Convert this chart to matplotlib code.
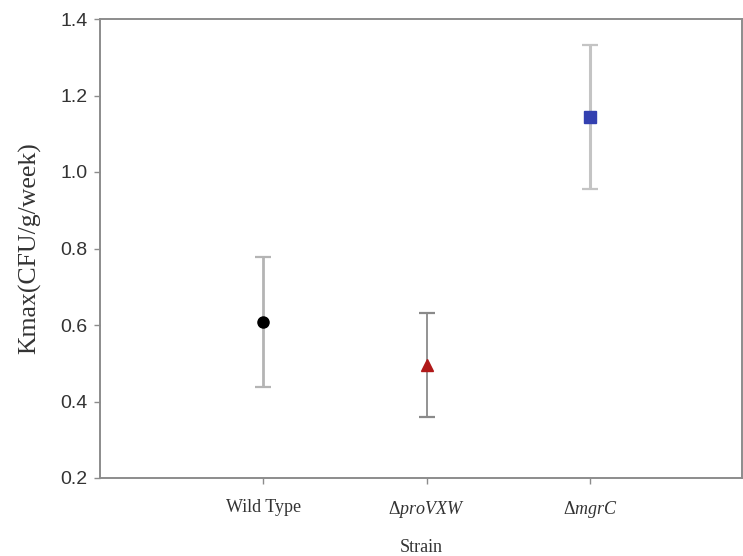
#!/usr/bin/env python3
"""Kmax per strain with error bars."""

import matplotlib.pyplot as plt

strains = ["Wild Type", "proVXW", "mgrC"]
kmax = [0.608, 0.495, 1.144]
kmax_err = [0.169, 0.136, 0.188]

markers = ["o", "^", "s"]
colors = ["black", "#b01818", "#3340b0"]
err_colors = ["#b4b4b4", "#8a8a8a", "#c4c4c4"]
err_widths = [2.0, 1.3, 2.2]

SERIF = "Liberation Serif"
SANS = "Liberation Sans"

plt.rcParams["mathtext.fontset"] = "custom"
plt.rcParams["mathtext.it"] = "Liberation Serif:italic"
plt.rcParams["mathtext.rm"] = "Liberation Serif"


def main():
    fig = plt.figure(figsize=(7.43, 5.56), dpi=100)
    ax = fig.add_axes([100 / 743, 78 / 556, 642 / 743, 459 / 556])

    xs = list(range(1, len(strains) + 1))
    for x, y, e, m, c, ec, ew in zip(xs, kmax, kmax_err, markers, colors,
                                     err_colors, err_widths):
        ax.errorbar(x, y, yerr=e, fmt=m, color=c, ecolor=ec, elinewidth=ew,
                    capsize=5.5, capthick=1.6, markersize=8, zorder=3)

    ax.set_xlim(0, 3.93)
    ax.set_ylim(0.2, 1.4)
    ax.set_yticks([0.2, 0.4, 0.6, 0.8, 1.0, 1.2, 1.4])
    ax.set_yticklabels([f"{v:.1f}" for v in ax.get_yticks()],
                       fontsize=14, family=SANS, color="#333333")

    labels = [strains[0]] + ["Δ$\\mathit{%s}$" % s for s in strains[1:]]
    ax.set_xticks(xs)
    ax.set_xticklabels(labels, fontsize=13, family=SERIF, color="#333333")

    ax.set_xlabel("Strain", fontsize=13, family=SERIF, color="#333333",
                  labelpad=14)
    ax.set_ylabel("Kmax(CFU/g/week)", fontsize=18.5, family=SERIF,
                  color="#333333", labelpad=14)

    for sp in ax.spines.values():
        sp.set_color("#8c8c8c")
        sp.set_linewidth(1.4)
    ax.tick_params(axis="both", direction="out", length=4, width=1,
                   color="#8c8c8c")
    ax.tick_params(axis="y", pad=5)
    ax.tick_params(axis="x", pad=11)

    fig.savefig("out.png")
    plt.close(fig)


if __name__ == "__main__":
    main()
